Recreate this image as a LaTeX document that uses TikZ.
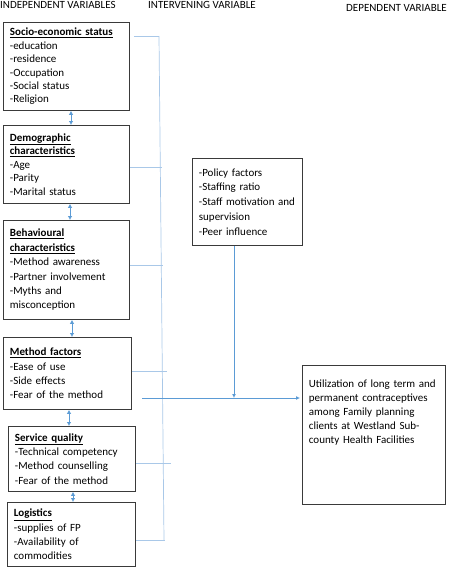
\documentclass[tikz,border=0pt]{standalone}
\usepackage{fontspec}
\setmainfont{Carlito}
\usepackage{tikz}
\usetikzlibrary{calc,arrows.meta,positioning}
\definecolor{bluex}{HTML}{5B9BD5}
\definecolor{lightx}{HTML}{A9C8E8}
\definecolor{edgex}{HTML}{3A3A3A}
\tikzset{
  bx/.style={draw=edgex,line width=0.8pt,anchor=north west,align=left,inner xsep=6pt,inner ysep=0pt,font=\fontsize{11}{14.4}\selectfont},
  hd/.style={anchor=base west,inner sep=0pt,font=\fontsize{11}{13}\selectfont},
  ar/.style={-{Latex[length=4pt,width=4pt]},line width=0.8pt,bluex},
  dar/.style={{Latex[length=4pt,width=4.5pt]}-{Latex[length=4pt,width=4.5pt]},line width=0.8pt,bluex},
  brk/.style={lightx,line width=0.7pt}
}
\newcommand{\ttl}[1]{\underline{\textbf{#1}}}

\begin{document}
\begin{tikzpicture}[x=1pt,y=-1pt]
\useasboundingbox (0,0) rectangle (449,571);
% headings
\node[hd] (hind) at (0,8) {INDEPENDENT VARIABLES};
\node[hd] (hint) at (148,8) {INTERVENING VARIABLE};
\node[hd] (hdep) at (346,11) {DEPENDENT VARIABLE};
% independent variables
\node[bx,minimum width=126,minimum height=88,text width=113pt,font=\fontsize{11}{13.4}\selectfont] (s1) at (3,22) {\ttl{Socio-economic status}\\-education\\-residence\\-Occupation\\-Social status\\-Religion};
\node[bx,minimum width=126,minimum height=78,text width=113pt,font=\fontsize{11}{13.5}\selectfont] (s2) at (3,125) {\ttl{Demographic}\\\ttl{characteristics}\\-Age\\-Parity\\-Marital status};
\node[bx,minimum width=126,minimum height=99,text width=113pt] (s3) at (3,220) {\ttl{Behavioural}\\\ttl{characteristics}\\-Method awareness\\-Partner involvement\\-Myths and\\misconception};
\node[bx,minimum width=128,minimum height=72,text width=115pt] (s4) at (3,337) {\ttl{Method factors}\\-Ease of use\\-Side effects\\-Fear of the method};
\node[bx,minimum width=127,minimum height=65,text width=114pt] (s5) at (8,426) {\ttl{Service quality}\\-Technical competency\\-Method counselling\\-Fear of the method};
\node[bx,minimum width=128,minimum height=64,text width=115pt] (s6) at (7,502) {\ttl{Logistics}\\-supplies of FP\\-Availability of\\commodities};
% intervening and dependent
\node[bx,minimum width=110,minimum height=87,text width=97pt,font=\fontsize{11}{14.7}\selectfont] (inter) at (192,158) {-Policy factors\\-Staffing ratio\\-Staff motivation and\\supervision\\-Peer influence};
\node[bx,minimum width=143,minimum height=139,text width=130pt,font=\fontsize{11}{14}\selectfont] (dep) at (302,365) {Utilization of long term and\\permanent contraceptives\\among Family planning\\clients at Westland Sub-\\county Health Facilities\\[33pt]\mbox{}};
% links between boxes
\foreach \a/\b/\x in {s1/s2/71,s2/s3/70,s3/s4/72,s4/s5/69,s5/s6/73}{\draw[dar] (\a.south -| \x,0) -- (\b.north -| \x,0);}
% bracket
\coordinate (btop) at (159,36);
\coordinate (bbot) at (164,540);
\draw[brk] (btop) -- (bbot);
\draw[brk] ([xshift=4pt]s1.east |- btop) -- (btop);
\foreach \n/\y/\l in {s2/167/32,s3/265/33,s4/371/35,s5/463/35,s6/540/29}{\draw[brk] (\n.east |- 0,\y) -- ++(\l,0);}
% main arrows
\coordinate (jn) at (142,398);
\coordinate (hit) at (234,398);
\draw[ar,shorten >=2pt] (jn) -- (dep.west |- jn);
\draw[ar] (inter.south -| hit) -- (hit);
\end{tikzpicture}
\end{document}
